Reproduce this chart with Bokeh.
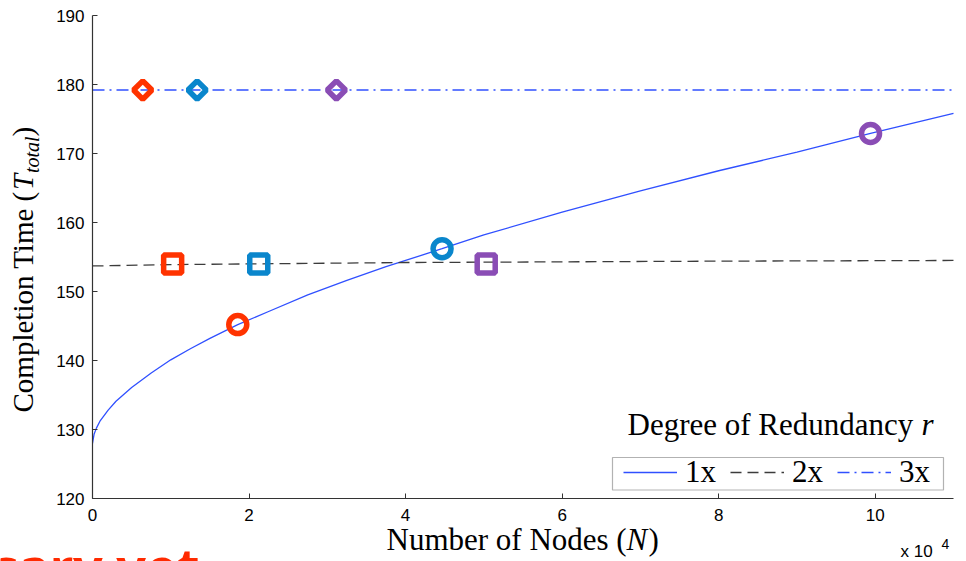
import math

from bokeh.embed import file_html
from bokeh.models import (BoxAnnotation, FixedTicker, Label, Legend,
                          LegendItem, Range1d)
from bokeh.plotting import figure
from bokeh.resources import INLINE

# ---- data (node counts N are in units of 10^4) ----
curve_n = [0.0, 0.02, 0.05, 0.1, 0.2, 0.3, 0.5, 0.75, 1.0, 1.25, 1.5, 1.856,
           2.25, 2.75, 3.25, 3.75, 4.466, 5.0, 6.0, 7.0, 8.0, 9.0, 9.94, 11.0]
time_1x = [128.0, 129.3, 130.2, 131.3, 132.8, 134.1, 136.1, 138.2, 140.1, 141.7,
           143.2, 145.2, 147.1, 149.5, 151.6, 153.6, 156.2, 158.2, 161.5, 164.6,
           167.5, 170.2, 172.9, 175.8]

line2_n = [0.0, 1.0, 2.0, 4.0, 6.0, 8.0, 11.0]
time_2x = [153.7, 153.9, 154.0, 154.2, 154.3, 154.4, 154.5]

line3_n = [0.0, 11.0]
time_3x = [179.2, 179.2]

circle_n = [1.856, 4.466, 9.94]
circle_t = [145.2, 156.2, 172.9]
square_n = [1.024, 2.124, 5.03]
square_t = [154.0, 154.0, 154.0]
diamond_n = [0.642, 1.337, 3.116]
diamond_t = [179.2, 179.2, 179.2]
marker_colors = ["#ff3300", "#0a86cc", "#8a4db5"]

x_ticks = [0, 2, 4, 6, 8, 10]
y_ticks = [120, 130, 140, 150, 160, 170, 180, 190]
legend_labels = ["1x", "2x", "3x"]

# ---- layout: the frame spans the whole canvas, the axes sit at fixed spots ----
W, H = 966, 561
AX_LEFT, AX_RIGHT, AX_TOP, AX_BOTTOM = 92, 953, 15, 498   # canvas px of the data box
X0, X1, Y0, Y1 = 0.0, 11.0, 120.0, 190.0
x_per_px = (X1 - X0) / (AX_RIGHT - AX_LEFT)
y_per_px = (Y1 - Y0) / (AX_BOTTOM - AX_TOP)

LINE_BLUE = "#3050ff"
SERIF = "Liberation Serif"
SANS = "Liberation Sans"
BASELINE_SHIFT = 0.35   # em; lifts label text onto the intended baseline


def fx(cx):
    """canvas x -> screen x"""
    return cx


def fy(cy):
    """canvas y (top-down) -> screen y (bottom-up)"""
    return H - cy


p = figure(width=W, height=H, output_backend="svg", toolbar_location=None,
           x_range=Range1d(X0 - AX_LEFT * x_per_px, X1 + (W - AX_RIGHT) * x_per_px),
           y_range=Range1d(Y0 - (H - AX_BOTTOM) * y_per_px, Y1 + AX_TOP * y_per_px),
           min_border=0, min_border_left=0, min_border_right=0,
           min_border_top=0, min_border_bottom=0)
p.outline_line_color = None
p.grid.visible = False
p.background_fill_color = "white"
p.border_fill_color = "white"

p.xaxis.ticker = FixedTicker(ticks=x_ticks)
p.yaxis.ticker = FixedTicker(ticks=y_ticks)
p.xaxis.fixed_location = Y0
p.yaxis.fixed_location = X0
p.xaxis.bounds = (X0, X1)
p.yaxis.bounds = (Y0, Y1)
for ax in (p.xaxis[0], p.yaxis[0]):
    ax.major_tick_in = 5
    ax.major_tick_out = 0
    ax.minor_tick_line_color = None
    ax.axis_line_color = "#333333"
    ax.axis_line_width = 1.2
    ax.major_tick_line_color = "#333333"
    ax.major_label_text_font = SANS
    ax.major_label_text_font_size = "17px"
    ax.major_label_text_color = "black"
p.yaxis.major_label_standoff = 8
p.xaxis.major_label_standoff = 10

# ---- series lines ----
r1 = p.line(curve_n, time_1x, line_color=LINE_BLUE, line_width=1.3)
r2 = p.line(line2_n, time_2x, line_color="#3c3c3c", line_width=1.3,
            line_dash="11 6")
r3 = p.line(line3_n, time_3x, line_color=LINE_BLUE, line_width=1.3,
            line_dash="12 5 2 5")

# ---- hollow markers ----
p.scatter(circle_n, circle_t, marker="circle", size=18, fill_color=None,
          line_color=marker_colors, line_width=5.5)
p.scatter(square_n, square_t, marker="square", size=18, fill_color=None,
          line_color=marker_colors, line_width=5.5)
p.scatter(diamond_n, diamond_t, marker="square", size=13, angle=math.pi / 4,
          fill_color=None, line_color=marker_colors, line_width=5.5)

# ---- legend box + legend ----
p.add_layout(BoxAnnotation(left=fx(612), right=fx(943), top=fy(457), bottom=fy(489.5),
                           left_units="screen", right_units="screen",
                           top_units="screen", bottom_units="screen",
                           fill_color="white", fill_alpha=1.0,
                           line_color="black", line_width=1.2))
legend = Legend(items=[LegendItem(label=legend_labels[0], renderers=[r1]),
                       LegendItem(label=legend_labels[1], renderers=[r2]),
                       LegendItem(label=legend_labels[2], renderers=[r3])],
                orientation="horizontal", location=(fx(623), fy(490)),
                padding=0, margin=0, spacing=14, glyph_width=54,
                label_standoff=8, label_text_font=SERIF,
                label_text_font_size="31px", label_text_color="black",
                border_line_color=None, background_fill_alpha=0)
p.add_layout(legend)


def label(text, cx, cy, size, font=SERIF, style="normal", rotated=False,
          color="black"):
    """Place text with its baseline start at canvas point (cx, cy)."""
    lift = BASELINE_SHIFT * size
    if rotated:
        x, y, angle = fx(cx - lift), fy(cy), math.pi / 2
    else:
        x, y, angle = fx(cx), fy(cy - lift), 0.0
    p.add_layout(Label(x=x, y=y, x_units="screen", y_units="screen",
                       text=text, text_font=font, text_font_size=f"{size}px",
                       text_font_style=style, text_color=color, angle=angle,
                       text_align="left", text_baseline="alphabetic"))


# legend title
label("Degree of Redundancy ", 627, 435, 31)
label("r", 921, 435, 31, style="italic")

# x-axis title
label("Number of Nodes (", 386, 550, 31)
label("N", 626, 550, 31, style="italic")
label(")", 648, 550, 31)

# y-axis title (rotated)
label("Completion Time (", 33, 412, 29, rotated=True)
label("T", 33, 189.5, 29, style="italic", rotated=True)
label("total", 38, 172.5, 20, style="italic", rotated=True)
label(")", 33, 136, 29, rotated=True)

# exponent of the x axis
label("x 10", 900, 556.5, 17, font=SANS)
label("4", 941, 548.5, 14, font=SANS)

# slide caption running off the bottom edge
label("sary yet", -8, 583, 52, font="Noto Sans", style="bold", color="#ff2a00")

open("out.html", "w").write(file_html(p, INLINE))
